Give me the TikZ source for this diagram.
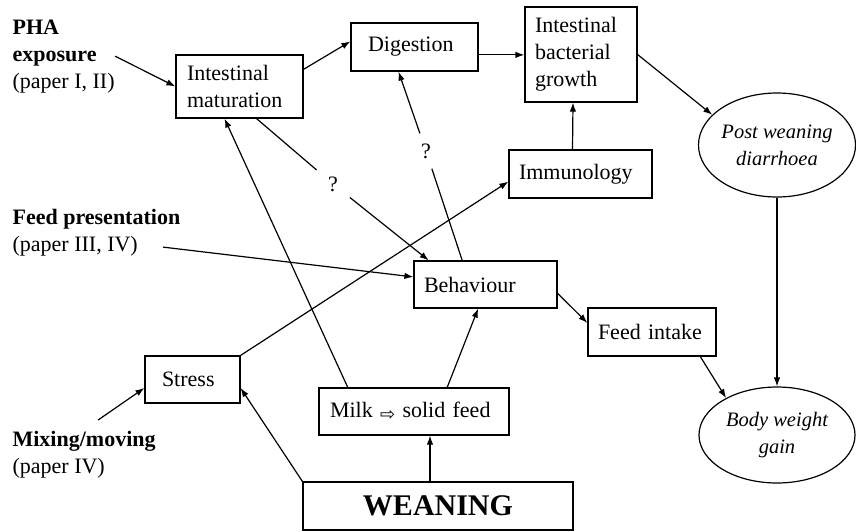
\documentclass[tikz,border=0pt]{standalone}
\usepackage{fontspec}
\setmainfont{Liberation Serif}
\newfontfamily\symfont{DejaVu Sans}
\usetikzlibrary{arrows.meta,shapes.geometric}

\begin{document}
\begin{tikzpicture}[x=1pt,y=-1pt,
  font=\fontsize{22}{27}\selectfont,
  line width=1.2pt,
  >={Latex[length=9pt,width=6.5pt]},
  box/.style={draw,rectangle,align=left,inner xsep=10pt,inner ysep=0pt},
  oval/.style={draw,ellipse,align=center,inner sep=0pt,minimum width=156pt,
    font=\fontsize{20.5}{27}\selectfont\itshape},
  lbl/.style={anchor=north west,align=left,inner sep=0pt},
  qm/.style={circle,inner sep=0pt}]

\useasboundingbox (0,0) rectangle (856,531);

\node[lbl] (pha) at (12,19) {\textbf{PHA}\\\textbf{exposure}\\(paper I, II)};
\node[lbl] (fp) at (12,209) {\textbf{Feed presentation}\\(paper III, IV)};
\node[lbl] (mm) at (12,431) {\textbf{Mixing/moving}\\(paper IV)};

\node[box,text width=105pt,minimum height=63pt,inner xsep=11pt] (im) at (239.5,86.5) {Intestinal\\maturation};
\node[box,text width=93pt,minimum height=48pt,inner xsep=17pt] (dig) at (414.5,47) {Digestion};
\node[box,text width=92pt,minimum height=95pt] (ibg) at (581,54.5) {Intestinal\\bacterial\\growth};
\node[box,text width=123pt,minimum height=48pt] (imm) at (580.5,174) {Immunology};
\node[oval,minimum height=104pt] (pwd) at (777,145) {Post weaning\\diarrhoea};

\node[box,text width=123pt,minimum height=47pt] (beh) at (485.5,284.5) {Behaviour};
\node[box,text width=108pt,minimum height=48pt] (fi) at (652,332) {Feed intake};
\node[oval,minimum height=96pt] (bwg) at (777,435) {Body weight\\gain};

\node[box,text width=61pt,minimum height=47pt,inner xsep=17pt] (stress) at (192.5,379.5) {Stress};
\node[box,text width=168pt,minimum height=47pt,inner xsep=11pt] (milk) at (414,411.5) {Milk \raisebox{-3pt}{\symfont\fontsize{18}{18}\selectfont ⇨} solid feed};
\node[box,align=center,minimum width=270pt,minimum height=48pt,
  font=\fontsize{30}{36}\selectfont\bfseries] (wean) at (438,506) {WEANING};

\node[qm,minimum size=42pt] (q1) at (333,184) {?};
\node[qm,minimum size=36pt] (q2) at (426,151) {?};

\draw[->] (pha.east) -- (im.west);
\draw[->] (im.15) -- (dig.175);
\draw[->] (dig.353) -- (dig.353 -| ibg.west);
\draw[->] (ibg.east) -- (pwd.155);
\draw[->] ([xshift=-8pt]imm.north) -- ([xshift=-8pt]ibg.south);
\draw[->] (pwd.south) -- (bwg.north);
\draw[->] (fi.333) -- (bwg.144);
\draw[->] (beh.353) -- (fi.172);
\draw (im.298) -- (q1);
\draw[->] (q1) -- (beh.157);
\draw (beh.134) -- (q2);
\draw[->] (q2) -- (dig.237);
\draw[->] ([shift={(-18,14)}]fp.east) -- (beh.174);
\draw[->] (stress.north east) -- (imm.186);
\draw[->] (milk.160) -- (im.245);
\draw[->] (milk.36) -- (beh.253);
\draw[->] ([xshift=-8pt]wean.north) -- ([xshift=-8pt]wean.north |- milk.south);
\draw[->] (wean.north west) -- (stress.350);
\draw[->] ([shift={(14,-11)}]mm.north) -- (stress.190);

\end{tikzpicture}
\end{document}
